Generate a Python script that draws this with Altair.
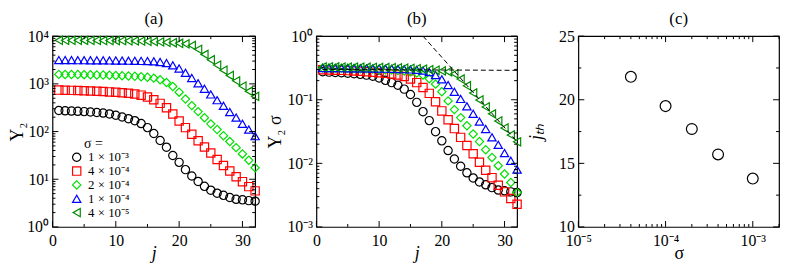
import altair as alt
import pandas as pd

FONT = "Liberation Serif"

# ---------------- data ----------------
j_values = list(range(1, 33))

sigma_values = [1e-3, 4e-4, 2e-4, 1e-4, 4e-5]
sigma_labels = ["1 × 10⁻³", "4 × 10⁻⁴", "2 × 10⁻⁴", "1 × 10⁻⁴", "4 × 10⁻⁵"]
series_colors = ["#000000", "#ff0000", "#00e000", "#0000ff", "#008c00"]
series_shapes = ["circle", "square", "diamond", "triangle-up", "triangle-left"]

y2_sigma_1e3 = [276, 272, 269, 266, 262, 257, 251, 244, 234, 220, 202, 186, 169, 147, 121, 91,
                65, 47, 31.5, 22.6, 15.9, 11.7, 9.0, 7.1, 5.9, 5.1, 4.6, 4.15, 3.8, 3.7, 3.56, 3.47]
y2_sigma_4e4 = [740, 735, 730, 725, 718, 710, 700, 690, 678, 665, 650, 635, 615, 580, 530, 465,
                390, 315, 233, 167, 121, 88, 64, 47.6, 35.5, 26, 19.5, 14.9, 11.3, 8.9, 7.0, 5.7]
y2_sigma_2e4 = [1580, 1575, 1570, 1565, 1560, 1550, 1540, 1530, 1515, 1500, 1485, 1465, 1440, 1415, 1380, 1320,
                1220, 1070, 880, 670, 480, 350, 262, 195, 145, 110, 82, 62, 46, 34, 25, 17.4]
y2_sigma_1e4 = [3150, 3150, 3145, 3140, 3135, 3130, 3120, 3110, 3100, 3090, 3080, 3065, 3050, 3030, 3000, 2960,
                2880, 2720, 2450, 2100, 1700, 1330, 1030, 790, 600, 455, 347, 257, 196, 145, 110, 80]
y2_sigma_4e5 = [8200, 8190, 8180, 8170, 8160, 8150, 8130, 8110, 8090, 8060, 8030, 7990, 7940, 7880, 7800, 7700,
                7580, 7440, 7280, 7100, 6900, 6400, 5300, 4150, 3200, 2480, 1930, 1500, 1160, 900, 700, 545]
series_y2 = [y2_sigma_1e3, y2_sigma_4e4, y2_sigma_2e4, y2_sigma_1e4, y2_sigma_4e5]

# dashed guide lines of panel (b)
flat_j = [1, 32]
flat_v = [0.30, 0.29]
slope_j = [17, 32]
slope_v = [1.0, 0.022]

# panel (c)
jth_sigma = [4e-5, 1e-4, 2e-4, 4e-4, 1e-3]
jth_values = [21.8, 19.5, 17.7, 15.7, 13.8]

# ticks / labels
x_major_j = [0, 10, 20, 30]
x_minor_j = [5, 15, 25]
ya_major = [1, 10, 100, 1000, 10000]
ya_labels = ["10⁰", "10¹", "10²", "10³", "10⁴"]
yb_major = [0.001, 0.01, 0.1, 1]
yb_labels = ["10⁻³", "10⁻²", "10⁻¹", "10⁰"]
xc_major = [1e-5, 1e-4, 1e-3]
xc_labels = ["10⁻⁵", "10⁻⁴", "10⁻³"]
yc_major = [10, 15, 20, 25]
yc_minor = [12.5, 17.5, 22.5]
minor_mult = [2, 3, 4, 5, 6, 7, 8, 9]


def log_minor(decades, upper=None):
    out = [m * d for d in decades for m in minor_mult]
    if upper is not None:
        out = [v for v in out if v <= upper * 1.0001]
    return out


ya_minor = log_minor([1, 10, 100, 1000])
yb_minor = log_minor([0.001, 0.01, 0.1])
xc_minor = log_minor([1e-5, 1e-4, 1e-3], upper=2e-3)

# ---------------- tables ----------------
rows = []
for lab, s, ys in zip(sigma_labels, sigma_values, series_y2):
    for j, y in zip(j_values, ys):
        rows.append({"j": j, "Y2": y, "Y2s": y * s, "label": lab})
df = pd.DataFrame(rows)
df_flat = pd.DataFrame({"j": flat_j, "v": flat_v})
df_slope = pd.DataFrame({"j": slope_j, "v": slope_v})
df_c = pd.DataFrame({"sigma": jth_sigma, "jth": jth_values})

W_A, W_B, W_C, H = 205, 203, 203, 193
MAJ, MIN = 6, 3


def lab_expr(vals, labs):
    expr = "''"
    for v, l in reversed(list(zip(vals, labs))):
        expr = f"abs(datum.value - {v!r}) < {v * 1e-6!r} ? '{l}' : ({expr})"
    return expr


def y_axis(title, values, expr=None, italic=False, tx=-40):
    kw = dict(values=values, title=title, ticks=False, domain=False, grid=False,
              labelFont=FONT, labelFontSize=16, labelColor="black", labelPadding=4,
              titleFont=FONT, titleFontSize=18, titleFontWeight="normal", titleColor="black",
              titleX=tx, titleBaseline="middle")
    if expr:
        kw["labelExpr"] = expr
    if italic:
        kw["titleFontStyle"] = "italic"
    return alt.Axis(**kw)


def x_axis(title, values, expr=None, italic=False, ty=25):
    kw = dict(values=values, title=title, ticks=False, domain=False, grid=False,
              labelFont=FONT, labelFontSize=16, labelColor="black", labelPadding=6,
              labelFlush=False,
              titleFont=FONT, titleFontSize=18, titleFontWeight="normal", titleColor="black",
              titleY=ty, titleBaseline="middle")
    if expr:
        kw["labelExpr"] = expr
    if italic:
        kw["titleFontStyle"] = "italic"
    return alt.Axis(**kw)


def tick_layers(xscale, yscale, xaxis, yaxis, xmaj, xmin, ymaj, ymin, W, Hh):
    out = []
    for vals, L in ((xmaj, MAJ), (xmin, MIN)):
        base = alt.Chart(pd.DataFrame({"t": vals})).mark_rule(color="black", strokeWidth=1)
        xe = alt.X("t:Q", scale=xscale, axis=xaxis)
        out.append(base.encode(x=xe, y=alt.value(Hh), y2=alt.value(Hh - L)))
        out.append(base.encode(x=xe, y=alt.value(0), y2=alt.value(L)))
    for vals, L in ((ymaj, MAJ), (ymin, MIN)):
        base = alt.Chart(pd.DataFrame({"t": vals})).mark_rule(color="black", strokeWidth=1)
        ye = alt.Y("t:Q", scale=yscale, axis=yaxis)
        out.append(base.encode(y=ye, x=alt.value(0), x2=alt.value(L)))
        out.append(base.encode(y=ye, x=alt.value(W), x2=alt.value(W - L)))
    return out


def ptitle(t):
    return alt.TitleParams(t, font=FONT, fontSize=17, fontWeight="normal", offset=0,
                           anchor="middle", color="black")


xs_j = alt.Scale(domain=[0, 32], nice=False, zero=False)
ys_a = alt.Scale(type="log", domain=[1, 10000], nice=False)
ys_b = alt.Scale(type="log", domain=[0.001, 1], nice=False)
xs_c = alt.Scale(type="log", domain=[1e-5, 2e-3], nice=False)
ys_c = alt.Scale(domain=[10, 25], nice=False, zero=False)

ax_xj = x_axis("j", x_major_j, italic=True, ty=27)
ax_ya = y_axis("Y₂", ya_major, lab_expr(ya_major, ya_labels), tx=-35)
ax_yb = y_axis("Y₂ σ", yb_major, lab_expr(yb_major, yb_labels), tx=-41)
ax_xc = x_axis("σ", xc_major, lab_expr(xc_major, xc_labels), ty=27)
ax_yc = y_axis("jₜₕ", yc_major, italic=True, tx=-42)

legend_a = alt.Legend(
    title="\u200b\u00a0\u00a0\u00a0\u00a0σ =", orient="none", legendX=18, legendY=102, padding=0,
    titleFont=FONT, titleFontSize=14, titleFontWeight="normal", titlePadding=0, titleColor="black",
    labelFont=FONT, labelFontSize=13, labelColor="black", labelOffset=5,
    symbolSize=70, symbolStrokeWidth=1.2, rowPadding=-1.5)

color_scale = alt.Scale(domain=sigma_labels, range=series_colors)
shape_scale = alt.Scale(domain=sigma_labels, range=series_shapes)

# ---------------- panel (a) ----------------
pts_a = alt.Chart(df).mark_point(filled=False, size=70, strokeWidth=1.2, opacity=1).encode(
    x=alt.X("j:Q", scale=xs_j, axis=ax_xj),
    y=alt.Y("Y2:Q", scale=ys_a, axis=ax_ya),
    color=alt.Color("label:N", scale=color_scale, legend=legend_a, sort=sigma_labels),
    shape=alt.Shape("label:N", scale=shape_scale, legend=legend_a, sort=sigma_labels),
)
panel_a = alt.layer(
    pts_a, *tick_layers(xs_j, ys_a, ax_xj, ax_ya, x_major_j, x_minor_j, ya_major, ya_minor, W_A, H)
).properties(width=W_A, height=H, title=ptitle("(a)"))

# ---------------- panel (b) ----------------
pts_b = alt.Chart(df).mark_point(filled=False, size=70, strokeWidth=1.2, opacity=1).encode(
    x=alt.X("j:Q", scale=xs_j, axis=ax_xj),
    y=alt.Y("Y2s:Q", scale=ys_b, axis=ax_yb),
    color=alt.Color("label:N", scale=color_scale, legend=None, sort=sigma_labels),
    shape=alt.Shape("label:N", scale=shape_scale, legend=None, sort=sigma_labels),
)
line_flat = alt.Chart(df_flat).mark_line(color="black", strokeWidth=1, strokeDash=[5, 3]).encode(
    x=alt.X("j:Q", scale=xs_j, axis=ax_xj), y=alt.Y("v:Q", scale=ys_b, axis=ax_yb))
line_slope = alt.Chart(df_slope).mark_line(color="black", strokeWidth=1, strokeDash=[5, 3]).encode(
    x=alt.X("j:Q", scale=xs_j, axis=ax_xj), y=alt.Y("v:Q", scale=ys_b, axis=ax_yb))
panel_b = alt.layer(
    pts_b, line_flat, line_slope,
    *tick_layers(xs_j, ys_b, ax_xj, ax_yb, x_major_j, x_minor_j, yb_major, yb_minor, W_B, H),
).properties(width=W_B, height=H, title=ptitle("(b)"))

# ---------------- panel (c) ----------------
pts_c = alt.Chart(df_c).mark_point(filled=False, size=120, strokeWidth=1.2, opacity=1,
                                   color="black", shape="circle").encode(
    x=alt.X("sigma:Q", scale=xs_c, axis=ax_xc),
    y=alt.Y("jth:Q", scale=ys_c, axis=ax_yc),
)
panel_c = alt.layer(
    pts_c, *tick_layers(xs_c, ys_c, ax_xc, ax_yc, xc_major, xc_minor, yc_major, yc_minor, W_C, H)
).properties(width=W_C, height=H, title=ptitle("(c)"))

chart = alt.hconcat(panel_a, panel_b, panel_c, spacing=62, bounds="flush").resolve_scale(
    color="independent", shape="independent"
).properties(
    padding={"left": 0, "top": 0, "right": 0, "bottom": 0}, background="white"
).configure_view(stroke="black", strokeWidth=1.2)

chart.save("out.html", embed_options={"renderer": "svg", "actions": False})
